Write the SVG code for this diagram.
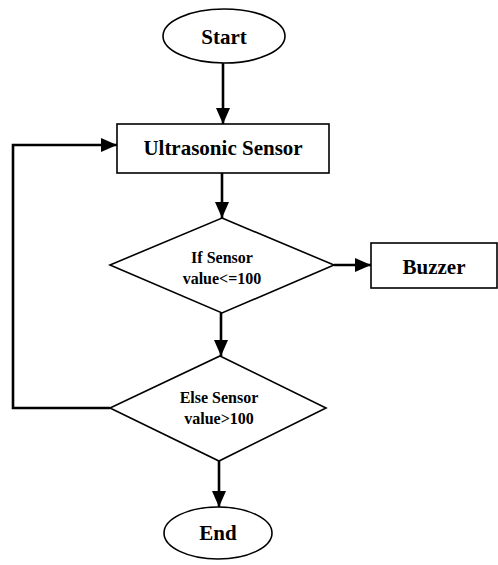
<svg xmlns="http://www.w3.org/2000/svg" width="498" height="565" viewBox="0 0 498 565">
<style>
.s{fill:#fff;stroke:#000;stroke-width:1.6}
.c{fill:none;stroke:#000;stroke-width:2.6}
.t{font-family:"Liberation Serif","Times New Roman",serif;font-weight:bold;fill:#000;text-anchor:middle}
.l{font-size:21px}
.m{font-size:16px}
</style>
<defs>
<marker id="a" markerUnits="userSpaceOnUse" markerWidth="16" markerHeight="16" viewBox="0 0 16 16" refX="16" refY="8" orient="auto">
<path d="M0,1 L16,8 L0,15 Z" fill="#000"/>
</marker>
</defs>
<rect width="498" height="565" fill="#fff"/>
<g id="connectors">
<line class="c" x1="223" y1="63" x2="223" y2="124" marker-end="url(#a)"/>
<line class="c" x1="222" y1="173" x2="222" y2="218" marker-end="url(#a)"/>
<line class="c" x1="334" y1="265" x2="371" y2="265" marker-end="url(#a)"/>
<line class="c" x1="221" y1="313" x2="221" y2="356" marker-end="url(#a)"/>
<line class="c" x1="219" y1="461" x2="219" y2="507" marker-end="url(#a)"/>
<polyline class="c" points="110,408 13,408 13,145 117,145" marker-end="url(#a)"/>
</g>
<g id="start">
<ellipse class="s" cx="224" cy="36" rx="61" ry="27"/>
<text class="t l" x="224" y="44">Start</text>
</g>
<g id="sensor">
<rect class="s" x="117" y="124" width="212" height="49"/>
<text class="t l" x="223" y="155">Ultrasonic Sensor</text>
</g>
<g id="if">
<polygon class="s" points="222,218 334,265 222,313 110,265"/>
<text class="t m" x="222" y="263">If Sensor</text>
<text class="t m" x="222" y="284">value&lt;=100</text>
</g>
<g id="buzzer">
<rect class="s" x="371" y="243" width="126" height="45"/>
<text class="t l" x="434" y="274">Buzzer</text>
</g>
<g id="else">
<polygon class="s" points="220,356 326,408 219,461 110,408"/>
<text class="t m" x="219" y="403">Else Sensor</text>
<text class="t m" x="219" y="424">value&gt;100</text>
</g>
<g id="end">
<ellipse class="s" cx="218" cy="533" rx="54" ry="26"/>
<text class="t l" x="218" y="540">End</text>
</g>
</svg>
